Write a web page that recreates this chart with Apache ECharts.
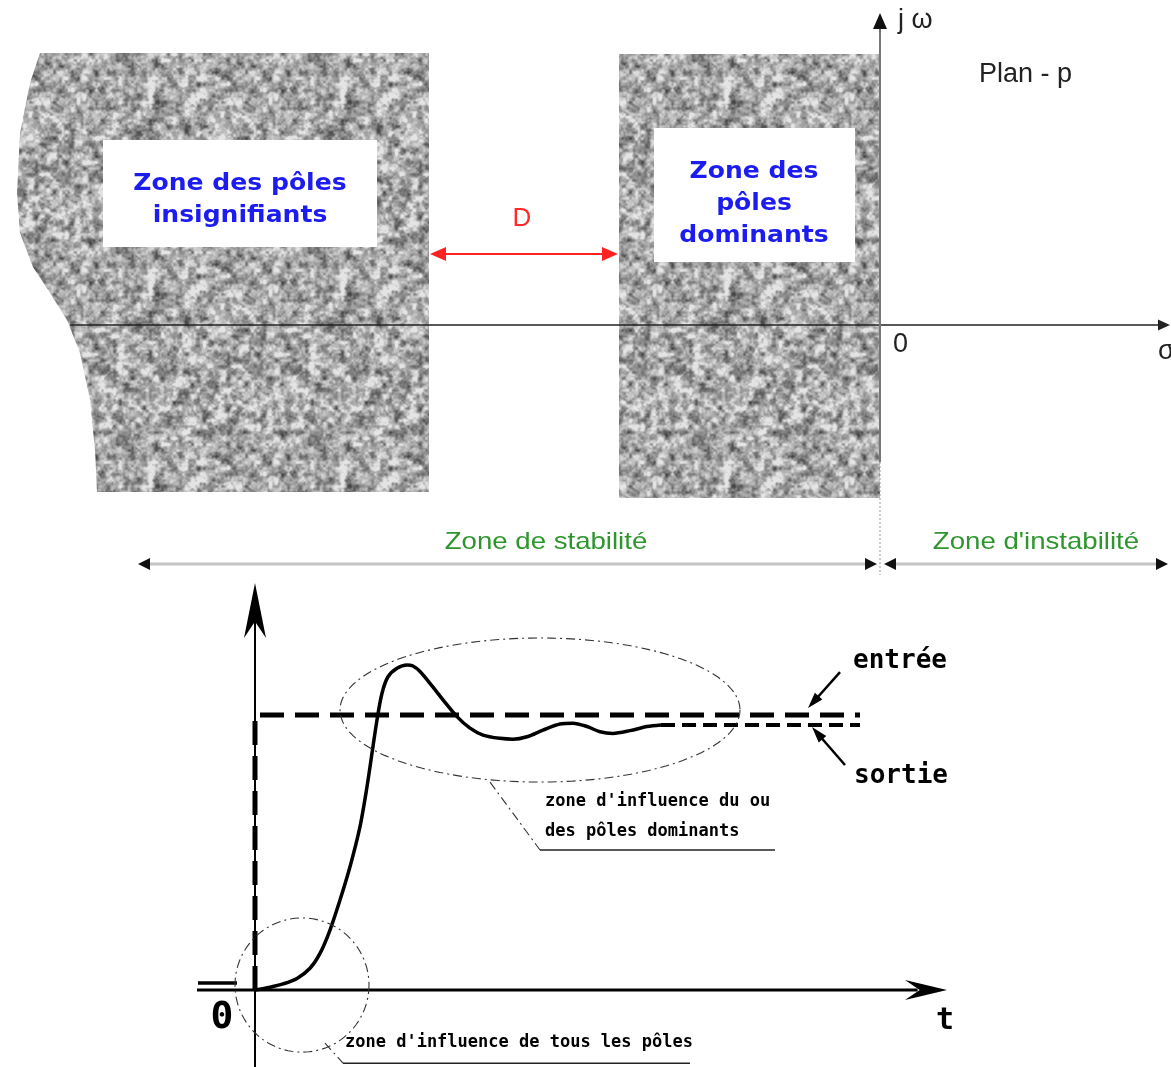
<!DOCTYPE html>
<html><head><meta charset="utf-8">
<script src="https://cdn.jsdelivr.net/npm/echarts@6.0.0/dist/echarts.min.js"></script>
<style>html,body{margin:0;padding:0;background:#fff}#c{width:1171px;height:1067px}</style>
</head><body><div id="c"></div><script>
// ================= DATA =================
// --- s-plane (units: sigma, j*omega) ---
const sigmaExtent = [-8.8, 2.91];
const jwExtent = [-2.75, 3.25];
// zone of insignificant poles: curved left border (top -> bottom), straight right border
const insignifEdgeSigma = [-8.40, -8.50, -8.60, -8.63, -8.60, -8.47, -8.30, -8.13, -8.00, -7.90, -7.85, -7.83];
const insignifEdgeJw    = [2.72, 2.42, 1.92, 1.32, 0.92, 0.58, 0.32, 0.05, -0.28, -0.75, -1.25, -1.67];
const insignifRightSigma = -4.51;
// zone of dominant poles
const dominantSigma = [-2.61, 0];
const dominantJw = [-1.73, 2.71];
// white label boxes [sigma1, jw1, sigma2, jw2]
const labelBoxes = [[-7.77, 1.85, -5.03, 0.78], [-2.26, 1.97, -0.25, 0.63]];
const zoneTexts = ['Zone des pôles\ninsignifiants', 'Zone des\npôles\ndominants'];
const zoneTextSigma = [-6.40, -1.26];
const zoneTextJw = [1.25, 1.21];
// axes of the plane [x1, y1, x2, y2]
const sigmaAxis = [[-8.1, 0, 2.9, 0]];
const jwAxis = [[0, -1.37, 0, 3.12]];
const jwAxisDotted = [[0, -1.37, 0, -2.5]];
// distance D and stability arrows
const distanceArrow = [[-4.50, 0.71, -2.62, 0.71]];
const stabilityArrows = [[-7.42, -2.39, -0.03, -2.39], [0.04, -2.39, 2.88, -2.39]];
const planeTexts = ['j ω', 'Plan - p', '0', 'σ'];
const planeTextSigma = [0.18, 0.99, 0.13, 2.78];
const planeTextJw = [3.04, 2.50, -0.20, -0.27];
const distanceText = ['D'];
const distanceTextPos = [[-3.58, 1.06]];
const stabilityTexts = ['Zone de stabilité', "Zone d'instabilité"];
const stabilityTextSigma = [-3.34, 1.56];
const stabilityTextJw = [-2.17, -2.17];

// --- step response (units: t, amplitude) ---
const tExtent = [-2.55, 9.16];
const ampExtent = [-0.28, 1.509];
const outputT = [0, 0.15, 0.28, 0.42, 0.55, 0.65, 0.75, 0.85, 0.95, 1.05, 1.12, 1.17, 1.22, 1.27, 1.33, 1.42, 1.52, 1.58, 1.65, 1.75, 1.88, 2.02, 2.15, 2.28, 2.45, 2.58, 2.72, 2.88, 3.05, 3.18, 3.32, 3.45, 3.58, 3.75, 3.92, 4.06];
const outputY = [0, 0.010, 0.022, 0.042, 0.079, 0.133, 0.218, 0.327, 0.448, 0.594, 0.739, 0.861, 0.982, 1.079, 1.139, 1.170, 1.182, 1.178, 1.158, 1.115, 1.055, 0.994, 0.952, 0.927, 0.915, 0.912, 0.921, 0.945, 0.967, 0.970, 0.958, 0.939, 0.933, 0.943, 0.958, 0.964];
const inputStepT = [0, 0, 6.05];
const inputStepY = [0, 1, 1];
const outputTailT = [4.06, 6.05];
const outputTailY = [0.964, 0.964];
const preOriginT = [-0.57, -0.18];
const preOriginY = [0.025, 0.025];
const tAxis = [[-0.58, 0, 6.92, 0]];
const ampAxis = [[0, -0.28, 0, 1.48]];
// influence zones [centre t, centre amp, radius t, radius amp]
const dominantEllipse = [[2.85, 1.018, 2.0, 0.262]];
const allPolesCircle = [[0.47, 0.018, 0.67, 0.244]];
const leaderDashed = [[2.35, 0.756, 2.85, 0.509], [0.70, -0.193, 0.88, -0.266]];
const leaderSolid = [[2.85, 0.509, 5.2, 0.509], [0.88, -0.266, 4.35, -0.266]];
const legendArrows = [[5.85, 1.156, 5.53, 1.025], [5.90, 0.818, 5.57, 0.956]];
const noteTexts = ["zone d'influence du ou", 'des pôles dominants', "zone d'influence de tous les pôles"];
const noteTextT = [2.90, 2.90, 0.90];
const noteTextAmp = [0.684, 0.575, -0.193];
const legendTexts = ['entrée', 'sortie'];
const legendTextT = [6.45, 6.46];
const legendTextAmp = [1.196, 0.778];
const originText = ['0'];
const originPos = [[-0.33, -0.102]];
const timeText = ['t'];
const timePos = [[6.90, -0.112]];

// ================= STYLE HELPERS =================
// deterministic speckled grey texture for the shaded zones (style only)
function noiseTexture() {
  const S = 192;
  const hash = (x, y, seed) => {
    let h = (Math.imul(x, 374761393) + Math.imul(y, 668265263) + Math.imul(seed, 1442695041)) | 0;
    h = Math.imul(h ^ (h >>> 13), 1274126177); h ^= h >>> 16;
    return (h >>> 0) / 4294967296;
  };
  const octave = (px, py, cell, seed) => {
    const n = S / cell, gx = px / cell, gy = py / cell;
    const x0 = Math.floor(gx), y0 = Math.floor(gy), fx = gx - x0, fy = gy - y0;
    const sx = fx * fx * (3 - 2 * fx), sy = fy * fy * (3 - 2 * fy);
    const v = (i, j) => hash(((i % n) + n) % n, ((j % n) + n) % n, seed);
    const a = v(x0, y0), b = v(x0 + 1, y0), c = v(x0, y0 + 1), d = v(x0 + 1, y0 + 1);
    return a + (b - a) * sx + (c - a) * sy + (a - b - c + d) * sx * sy;
  };
  const cv = document.createElement('canvas'); cv.width = cv.height = S;
  const ctx = cv.getContext('2d'); const img = ctx.createImageData(S, S);
  for (let y = 0; y < S; y++) for (let x = 0; x < S; x++) {
    const val = 0.5 * octave(x, y, 6, 1) + 0.3 * octave(x, y, 3, 2) + 0.2 * octave(x, y, 2, 3);
    const g = Math.max(70, Math.min(228, Math.round(168 + (val - 0.5) * 240)));
    const k = (y * S + x) * 4; img.data[k] = g; img.data[k + 1] = g; img.data[k + 2] = g; img.data[k + 3] = 255;
  }
  ctx.putImageData(img, 0, 0);
  return cv;
}
const noiseFill = { image: noiseTexture(), repeat: 'repeat' };

function polySeries(gi, xs, ys, style, z) {
  return { type: 'custom', xAxisIndex: gi, yAxisIndex: gi, z: z, silent: true, data: [[xs[0], ys[0]]],
    renderItem(params, api) {
      return { type: 'polygon', shape: { points: xs.map((x, i) => api.coord([x, ys[i]])) }, style: style };
    } };
}
function rectSeries(gi, boxes, style, z) {
  return { type: 'custom', xAxisIndex: gi, yAxisIndex: gi, z: z, silent: true, data: boxes,
    renderItem(params, api) {
      const a = api.coord([api.value(0), api.value(1)]), b = api.coord([api.value(2), api.value(3)]);
      return { type: 'rect', shape: { x: Math.min(a[0], b[0]), y: Math.min(a[1], b[1]), width: Math.abs(b[0] - a[0]), height: Math.abs(b[1] - a[1]) }, style: style };
    } };
}
function arrowSeries(gi, segs, o) {
  return { type: 'custom', xAxisIndex: gi, yAxisIndex: gi, z: o.z || 5, silent: true, data: segs,
    renderItem(params, api) {
      const a = api.coord([api.value(0), api.value(1)]), b = api.coord([api.value(2), api.value(3)]);
      const dx = b[0] - a[0], dy = b[1] - a[1], L = Math.hypot(dx, dy), ux = dx / L, uy = dy / L, nx = -uy, ny = ux;
      const hl = o.headLen, hw = o.headW / 2, notch = o.notch || 0;
      const head = (p, s) => {
        const bx = p[0] - s * ux * hl, by = p[1] - s * uy * hl;
        const pts = [[p[0], p[1]], [bx + nx * hw, by + ny * hw]];
        if (notch) pts.push([p[0] - s * ux * hl * (1 - notch), p[1] - s * uy * hl * (1 - notch)]);
        pts.push([bx - nx * hw, by - ny * hw]);
        return { type: 'polygon', shape: { points: pts }, style: { fill: o.headColor || o.color } };
      };
      const sh = hl * 0.7;
      const start = o.both ? [a[0] + ux * sh, a[1] + uy * sh] : a;
      const end = [b[0] - ux * sh, b[1] - uy * sh];
      const ch = [{ type: 'line', shape: { x1: start[0], y1: start[1], x2: end[0], y2: end[1] },
        style: { stroke: o.color, lineWidth: o.width, lineDash: o.dash || null } }];
      ch.push(head(b, 1)); if (o.both) ch.push(head(a, -1));
      return { type: 'group', children: ch };
    } };
}
function segSeries(gi, segs, style, z) {
  return { type: 'custom', xAxisIndex: gi, yAxisIndex: gi, z: z, silent: true, data: segs,
    renderItem(params, api) {
      const a = api.coord([api.value(0), api.value(1)]), b = api.coord([api.value(2), api.value(3)]);
      return { type: 'line', shape: { x1: a[0], y1: a[1], x2: b[0], y2: b[1] }, style: style };
    } };
}
function ellipseSeries(gi, items, style, z) {
  return { type: 'custom', xAxisIndex: gi, yAxisIndex: gi, z: z, silent: true, data: items,
    renderItem(params, api) {
      const c = api.coord([api.value(0), api.value(1)]);
      const r = api.size([api.value(2), api.value(3)]);
      const pts = [];
      for (let k = 0; k < 120; k++) { const th = k / 120 * Math.PI * 2; pts.push([c[0] + r[0] * Math.cos(th), c[1] + r[1] * Math.sin(th)]); }
      return { type: 'polygon', shape: { points: pts }, style: style };
    } };
}
function textSeries(gi, texts, pos, style, scaleX) {
  return { type: 'custom', xAxisIndex: gi, yAxisIndex: gi, z: 20, silent: true, data: pos,
    renderItem(params, api) {
      const p = api.coord([api.value(0), api.value(1)]);
      return { type: 'text', x: p[0], y: p[1], scaleX: scaleX || 1, style: Object.assign({ text: texts[params.dataIndex] }, style) };
    } };
}
const zip = (a, b) => a.map((v, i) => [v, b[i]]);

// ================= CHART =================
const chart = echarts.init(document.getElementById('c'), null, { renderer: 'canvas' });
const ARIAL = '"Liberation Sans", Arial, sans-serif';
const HAND = '"DejaVu Sans Mono", monospace';
const dashDot = { stroke: '#333', fill: null, lineWidth: 1.1, lineDash: [9, 4, 2, 4] };

const option = {
  animation: false,
  backgroundColor: '#ffffff',
  grid: [
    { left: 0, top: 0, width: 1171, height: 600 },
    { left: 0, top: 575, width: 1171, height: 492 }
  ],
  xAxis: [
    { type: 'value', gridIndex: 0, min: sigmaExtent[0], max: sigmaExtent[1], show: false },
    { type: 'value', gridIndex: 1, min: tExtent[0], max: tExtent[1], show: false }
  ],
  yAxis: [
    { type: 'value', gridIndex: 0, min: jwExtent[0], max: jwExtent[1], show: false },
    { type: 'value', gridIndex: 1, min: ampExtent[0], max: ampExtent[1], show: false }
  ],
  series: [
    // ---- plane ----
    polySeries(0,
      insignifEdgeSigma.concat([insignifRightSigma, insignifRightSigma]),
      insignifEdgeJw.concat([insignifEdgeJw[insignifEdgeJw.length - 1], insignifEdgeJw[0]]),
      { fill: noiseFill }, 1),
    rectSeries(0, [[dominantSigma[0], dominantJw[1], dominantSigma[1], dominantJw[0]]], { fill: noiseFill }, 1),
    rectSeries(0, labelBoxes, { fill: '#ffffff' }, 2),
    textSeries(0, zoneTexts, zip(zoneTextSigma, zoneTextJw),
      { fill: '#1c1cf0', font: 'bold 23px "DejaVu Sans", sans-serif', align: 'center', verticalAlign: 'middle', lineHeight: 32 }, 1.09),
    arrowSeries(0, sigmaAxis, { color: '#222', width: 1.5, headLen: 12, headW: 11, z: 4 }),
    arrowSeries(0, jwAxis, { color: '#777', width: 2, headLen: 16, headW: 14, headColor: '#111', z: 4 }),
    segSeries(0, jwAxisDotted, { stroke: '#999', lineWidth: 1, lineDash: [2, 2] }, 4),
    arrowSeries(0, distanceArrow, { color: '#ff2222', width: 2, headLen: 16, headW: 14, both: true, z: 6 }),
    arrowSeries(0, stabilityArrows, { color: '#c4c4c4', width: 3, headLen: 12, headW: 12, both: true, headColor: '#111', z: 6 }),
    textSeries(0, planeTexts, zip(planeTextSigma, planeTextJw),
      { fill: '#222', font: '27px ' + ARIAL, align: 'left', verticalAlign: 'middle' }),
    textSeries(0, distanceText, distanceTextPos,
      { fill: '#ff2a2a', font: '26px ' + ARIAL, align: 'center', verticalAlign: 'middle' }),
    textSeries(0, stabilityTexts, zip(stabilityTextSigma, stabilityTextJw),
      { fill: '#2f962f', font: '24px ' + ARIAL, align: 'center', verticalAlign: 'middle' }, 1.15),

    // ---- step response ----
    arrowSeries(1, tAxis, { color: '#000', width: 3, headLen: 42, headW: 20, notch: 0.35, z: 4 }),
    arrowSeries(1, ampAxis, { color: '#000', width: 2, headLen: 55, headW: 22, notch: 0.3, z: 4 }),
    { type: 'line', xAxisIndex: 1, yAxisIndex: 1, z: 5, silent: true, showSymbol: false, data: zip(inputStepT, inputStepY),
      lineStyle: { color: '#000', width: 5, type: [24, 11] } },
    { type: 'line', xAxisIndex: 1, yAxisIndex: 1, z: 5, silent: true, showSymbol: false, data: zip(outputTailT, outputTailY),
      lineStyle: { color: '#000', width: 4, type: [14, 7] } },
    { type: 'line', xAxisIndex: 1, yAxisIndex: 1, z: 5, silent: true, showSymbol: false, data: zip(preOriginT, preOriginY),
      lineStyle: { color: '#000', width: 3.5 } },
    { type: 'line', xAxisIndex: 1, yAxisIndex: 1, z: 6, silent: true, showSymbol: false, smooth: 0.3, data: zip(outputT, outputY),
      lineStyle: { color: '#000', width: 3.5 } },
    ellipseSeries(1, dominantEllipse, dashDot, 7),
    ellipseSeries(1, allPolesCircle, dashDot, 7),
    segSeries(1, leaderDashed, dashDot, 7),
    segSeries(1, leaderSolid, { stroke: '#222', lineWidth: 1.5 }, 7),
    arrowSeries(1, legendArrows, { color: '#000', width: 2.5, headLen: 16, headW: 10, z: 7 }),
    textSeries(1, noteTexts, zip(noteTextT, noteTextAmp),
      { fill: '#000', font: 'bold 17px ' + HAND, align: 'left', verticalAlign: 'middle' }),
    textSeries(1, legendTexts, zip(legendTextT, legendTextAmp),
      { fill: '#000', font: 'bold 26px ' + HAND, align: 'center', verticalAlign: 'middle' }),
    textSeries(1, originText, originPos,
      { fill: '#000', font: 'bold 38px ' + HAND, align: 'center', verticalAlign: 'middle' }),
    textSeries(1, timeText, timePos,
      { fill: '#000', font: 'bold 30px ' + HAND, align: 'center', verticalAlign: 'middle' })
  ]
};
chart.setOption(option);
</script></body></html>
